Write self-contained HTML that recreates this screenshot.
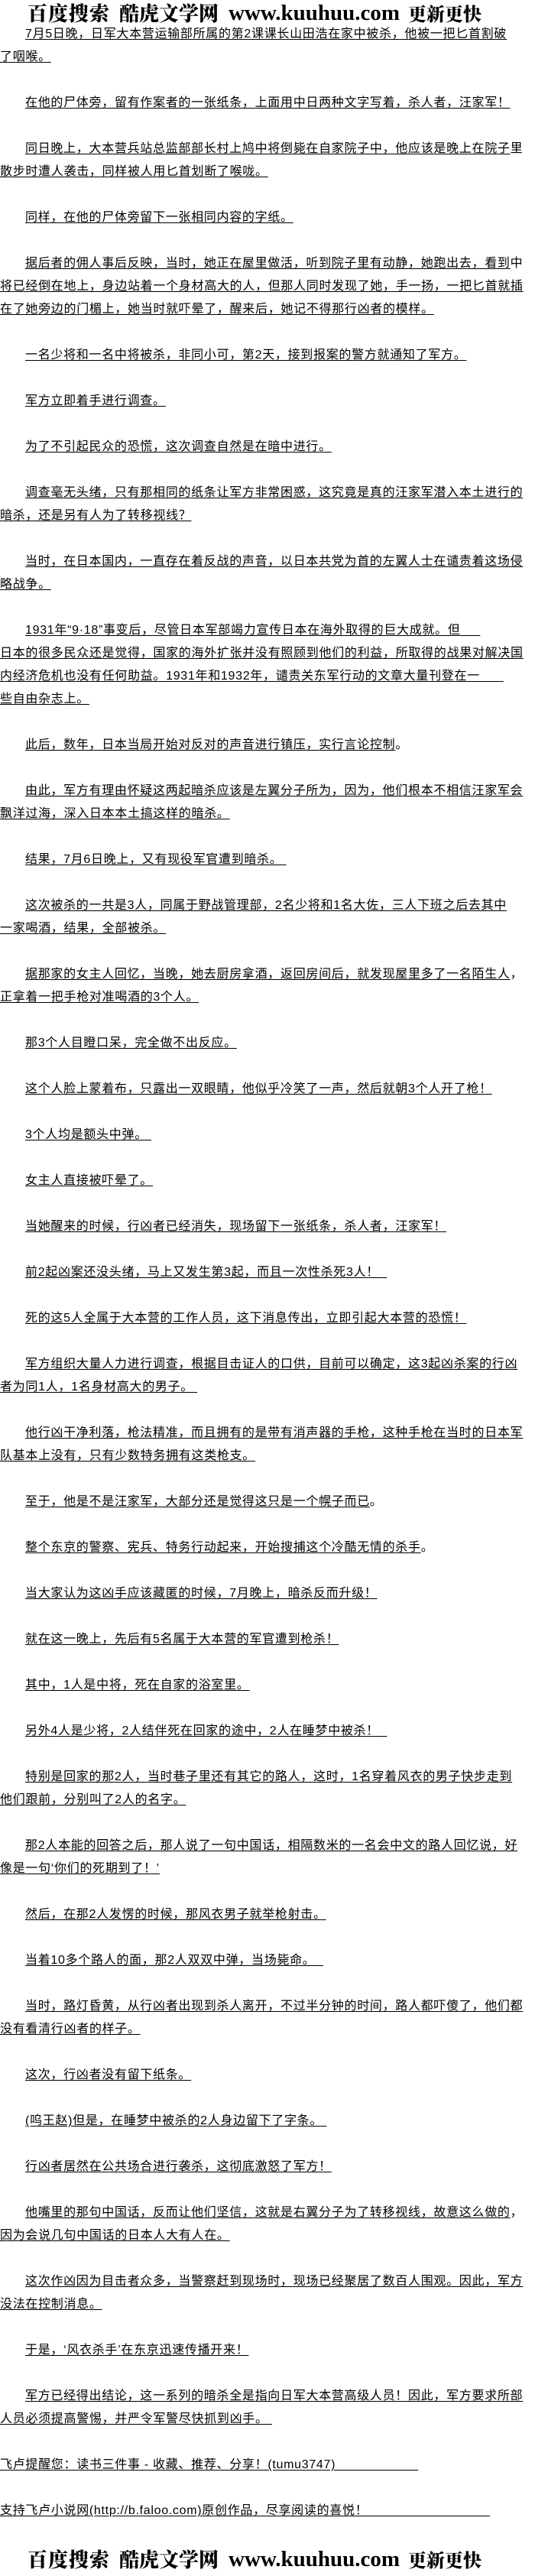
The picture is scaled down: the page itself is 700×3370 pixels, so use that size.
<!DOCTYPE html>
<html><head><meta charset="utf-8">
<style>
html,body{margin:0;padding:0;background:#fff;}
body{width:700px;height:3370px;position:relative;overflow:hidden;font-family:"Liberation Sans","Noto Sans CJK SC","WenQuanYi Zen Hei",sans-serif;color:#000;}
.logo{position:absolute;left:0;width:700px;height:30px;}
.logo span{position:absolute;top:0;font-family:"Noto Serif CJK SC","Liberation Serif",serif;font-weight:900;font-size:26px;line-height:30px;white-space:nowrap;}
.logo .w{font-family:"Liberation Serif",serif;font-weight:bold;font-size:29px;}
#txt{position:absolute;left:0;top:30px;width:700px;font-size:16px;line-height:30px;letter-spacing:0.7px;}
#txt div{height:30px;white-space:nowrap;}
#txt .i{padding-left:33px;}
#txt u{text-decoration:underline;text-underline-offset:2px;}
</style></head><body>
<div class="logo" style="top:2px">
<span style="left:36px;letter-spacing:1px">百度搜索</span>
<span style="left:156px">酷虎文学网</span>
<span class="w" style="left:299px">www.kuuhuu.com</span>
<span style="left:534px;font-size:24px">更新更快</span>
</div>
<div id="txt">
<div class="i"><u> 7月5日晚，日军大本营运输部所属的第2课课长山田浩在家中被杀，他被一把匕首割破</u></div>
<div><u>了咽喉。</u></div>
<div></div>
<div class="i"><u> 在他的尸体旁，留有作案者的一张纸条，上面用中日两种文字写着，杀人者，汪家军！</u></div>
<div></div>
<div class="i"><u> 同日晚上，大本营兵站总监部部长村上鸠中将倒毙在自家院子中，他应该是晚上在院子</u>里</div>
<div><u>散步时遭人袭击，同样被人用匕首划断了喉咙。</u></div>
<div></div>
<div class="i"><u> 同样，在他的尸体旁留下一张相同内容的字纸。</u></div>
<div></div>
<div class="i"><u> 据后者的佣人事后反映，当时，她正在屋里做活，听到院子里有动静，她跑出去，看到</u>中</div>
<div><u>将已经倒在地上，身边站着一个身材高大的人，但那人同时发现了她，手一扬，一把匕首就插</u></div>
<div><u>在了她旁边的门楣上，她当时就吓晕了，醒来后，她记不得那行凶者的模样。</u></div>
<div></div>
<div class="i"><u> 一名少将和一名中将被杀，非同小可，第2天，接到报案的警方就通知了军方。</u></div>
<div></div>
<div class="i"><u> 军方立即着手进行调查。</u></div>
<div></div>
<div class="i"><u> 为了不引起民众的恐慌，这次调查自然是在暗中进行。</u></div>
<div></div>
<div class="i"><u> 调查毫无头绪，只有那相同的纸条让军方非常困惑，这究竟是真的汪家军潜入本土进行的</u></div>
<div><u>暗杀，还是另有人为了转移视线？</u></div>
<div></div>
<div class="i"><u> 当时，在日本国内，一直存在着反战的声音，以日本共党为首的左翼人士在谴责着这场侵</u></div>
<div><u>略战争。</u></div>
<div></div>
<div class="i"><u> 1931年“9·18”事变后，尽管日本军部竭力宣传日本在海外取得的巨大成就。但&nbsp;&nbsp;&nbsp;&nbsp;&nbsp;</u></div>
<div><u>日本的很多民众还是觉得，国家的海外扩张并没有照顾到他们的利益，所取得的战果对解决国</u></div>
<div><u>内经济危机也没有任何助益。1931年和1932年，谴责关东军行动的文章大量刊登在一&nbsp;&nbsp;&nbsp;&nbsp;&nbsp;&nbsp;</u></div>
<div><u>些自由杂志上。</u></div>
<div></div>
<div class="i"><u> 此后，数年，日本当局开始对反对的声音进行镇压，实行言论控制</u>。</div>
<div></div>
<div class="i"><u> 由此，军方有理由怀疑这两起暗杀应该是左翼分子所为，因为，他们根本不相信汪家军会</u></div>
<div><u>飘洋过海，深入日本本土搞这样的暗杀。</u></div>
<div></div>
<div class="i"><u> 结果，7月6日晚上，又有现役军官遭到暗杀。&nbsp;</u></div>
<div></div>
<div class="i"><u> 这次被杀的一共是3人，同属于野战管理部，2名少将和1名大佐，三人下班之后去其中</u></div>
<div><u>一家喝酒，结果，全部被杀。</u></div>
<div></div>
<div class="i"><u> 据那家的女主人回忆，当晚，她去厨房拿酒，返回房间后，就发现屋里多了一名陌生人</u>，</div>
<div><u>正拿着一把手枪对准喝酒的3个人。</u></div>
<div></div>
<div class="i"><u> 那3个人目瞪口呆，完全做不出反应。</u></div>
<div></div>
<div class="i"><u> 这个人脸上蒙着布，只露出一双眼睛，他似乎冷笑了一声，然后就朝3个人开了枪！</u></div>
<div></div>
<div class="i"><u> 3个人均是额头中弹。&nbsp;</u></div>
<div></div>
<div class="i"><u> 女主人直接被吓晕了。</u></div>
<div></div>
<div class="i"><u> 当她醒来的时候，行凶者已经消失，现场留下一张纸条，杀人者，汪家军！</u></div>
<div></div>
<div class="i"><u> 前2起凶案还没头绪，马上又发生第3起，而且一次性杀死3人！&nbsp;&nbsp;</u></div>
<div></div>
<div class="i"><u> 死的这5人全属于大本营的工作人员，这下消息传出，立即引起大本营的恐慌！</u></div>
<div></div>
<div class="i"><u> 军方组织大量人力进行调查，根据目击证人的口供，目前可以确定，这3起凶杀案的行凶</u></div>
<div><u>者为同1人，1名身材高大的男子。&nbsp;</u></div>
<div></div>
<div class="i"><u> 他行凶干净利落，枪法精准，而且拥有的是带有消声器的手枪，这种手枪在当时的日本军</u></div>
<div><u>队基本上没有，只有少数特务拥有这类枪支。</u></div>
<div></div>
<div class="i"><u> 至于，他是不是汪家军，大部分还是觉得这只是一个幌子而已</u>。</div>
<div></div>
<div class="i"><u> 整个东京的警察、宪兵、特务行动起来，开始搜捕这个冷酷无情的杀手</u>。</div>
<div></div>
<div class="i"><u> 当大家认为这凶手应该藏匿的时候，7月晚上，暗杀反而升级！</u></div>
<div></div>
<div class="i"><u> 就在这一晚上，先后有5名属于大本营的军官遭到枪杀！</u></div>
<div></div>
<div class="i"><u> 其中，1人是中将，死在自家的浴室里。</u></div>
<div></div>
<div class="i"><u> 另外4人是少将，2人结伴死在回家的途中，2人在睡梦中被杀！&nbsp;&nbsp;</u></div>
<div></div>
<div class="i"><u> 特别是回家的那2人，当时巷子里还有其它的路人，这时，1名穿着风衣的男子快步走到</u></div>
<div><u>他们跟前，分别叫了2人的名字。</u></div>
<div></div>
<div class="i"><u> 那2人本能的回答之后，那人说了一句中国话，相隔数米的一名会中文的路人回忆说，好</u></div>
<div><u>像是一句‘你们的死期到了！’</u></div>
<div></div>
<div class="i"><u> 然后，在那2人发愣的时候，那风衣男子就举枪射击。</u></div>
<div></div>
<div class="i"><u> 当着10多个路人的面，那2人双双中弹，当场毙命。&nbsp;&nbsp;</u></div>
<div></div>
<div class="i"><u> 当时，路灯昏黄，从行凶者出现到杀人离开，不过半分钟的时间，路人都吓傻了，他们都</u></div>
<div><u>没有看清行凶者的样子。</u></div>
<div></div>
<div class="i"><u> 这次，行凶者没有留下纸条。</u></div>
<div></div>
<div class="i"><u> (呜王赵)但是，在睡梦中被杀的2人身边留下了字条。&nbsp;</u></div>
<div></div>
<div class="i"><u> 行凶者居然在公共场合进行袭杀，这彻底激怒了军方！</u></div>
<div></div>
<div class="i"><u> 他嘴里的那句中国话，反而让他们坚信，这就是右翼分子为了转移视线，故意这么做的</u>，</div>
<div><u>因为会说几句中国话的日本人大有人在。</u></div>
<div></div>
<div class="i"><u> 这次作凶因为目击者众多，当警察赶到现场时，现场已经聚居了数百人围观。因此，军方</u></div>
<div><u>没法在控制消息。</u></div>
<div></div>
<div class="i"><u> 于是，‘风衣杀手’在东京迅速传播开来！</u></div>
<div></div>
<div class="i"><u> 军方已经得出结论，这一系列的暗杀全是指向日军大本营高级人员！因此，军方要求所部</u></div>
<div><u>人员必须提高警惕，并严令军警尽快抓到凶手。&nbsp;</u></div>
<div></div>
<div><u>飞卢提醒您：读书三件事 - 收藏、推荐、分享！(tumu3747)&nbsp;&nbsp;&nbsp;&nbsp;&nbsp;&nbsp;&nbsp;&nbsp;&nbsp;&nbsp;&nbsp;&nbsp;&nbsp;&nbsp;&nbsp;&nbsp;&nbsp;&nbsp;&nbsp;&nbsp;&nbsp;</u></div>
<div></div>
<div><u>支持飞卢小说网(http://b.faloo.com)原创作品，尽享阅读的喜悦！&nbsp;&nbsp;&nbsp;&nbsp;&nbsp;&nbsp;&nbsp;&nbsp;&nbsp;&nbsp;&nbsp;&nbsp;&nbsp;&nbsp;&nbsp;&nbsp;&nbsp;&nbsp;&nbsp;&nbsp;&nbsp;&nbsp;&nbsp;&nbsp;&nbsp;&nbsp;&nbsp;&nbsp;&nbsp;&nbsp;&nbsp;</u></div>
</div>
<div class="logo" style="top:3333px">
<span style="left:36px;letter-spacing:1px">百度搜索</span>
<span style="left:156px">酷虎文学网</span>
<span class="w" style="left:299px">www.kuuhuu.com</span>
<span style="left:534px;font-size:24px">更新更快</span>
</div>
</body></html>
